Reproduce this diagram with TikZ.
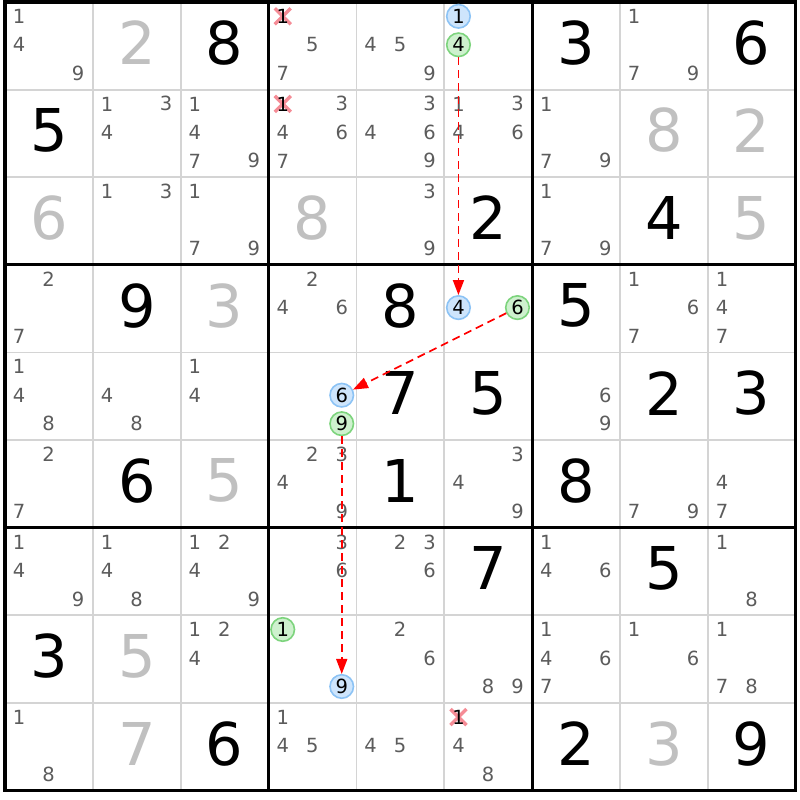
\documentclass[tikz,border=0pt]{standalone}
\usepackage{fontspec}
\setmainfont{DejaVu Sans}
\usetikzlibrary{arrows.meta}
\definecolor{candgray}{RGB}{92,92,92}
\definecolor{solvedgray}{RGB}{192,192,192}
\definecolor{thingrid}{RGB}{212,212,212}
\definecolor{bluefill}{RGB}{206,229,252}
\definecolor{blueline}{RGB}{140,195,245}
\definecolor{greenfill}{RGB}{206,241,206}
\definecolor{greenline}{RGB}{125,212,125}
\definecolor{xpink}{RGB}{245,140,150}
\definecolor{arrowred}{RGB}{255,0,0}
\newcommand{\candxy}[3]{%
  \pgfmathsetmacro\px{5+(#2-1)*87.85+14.2+mod(#3-1,3)*29.5}%
  \pgfmathsetmacro\py{2+(#1-1)*87.6+14.3+floor((#3-1)/3)*28.5}}
\begin{document}
\begin{tikzpicture}[x=1pt,y=-1pt,
  cand/.style={inner sep=0pt, text=candgray, font=\fontsize{19.5}{19.5}\selectfont},
  candk/.style={inner sep=0pt, text=black, font=\fontsize{19.5}{19.5}\selectfont},
  bigg/.style={inner sep=0pt, text=black, font=\fontsize{59}{59}\selectfont},
  bigs/.style={inner sep=0pt, text=solvedgray, font=\fontsize{59}{59}\selectfont},
  markbase/.style={circle, minimum size=23.5pt, inner sep=0pt, line width=1.6pt, text=black, font=\fontsize{19.5}{19.5}\selectfont},
  bluemark/.style={markbase, draw=blueline, fill=bluefill},
  greenmark/.style={markbase, draw=greenline, fill=greenfill},
  xmark/.style={draw=xpink, line width=3.4pt},
  thinline/.style={draw=thingrid, line width=1.8pt},
  thickline/.style={draw=black, line width=3.2pt},
  link/.style={draw=arrowred, line width=1.7pt, dash pattern=on 8pt off 5pt, -{Triangle[length=15pt,width=11pt]}},
]
\useasboundingbox[fill=white] (0,0) rectangle (800,800);
% thin grid
\foreach \i in {1,2,4,5,7,8}{
  \draw[thinline] ({5+\i*87.85},2) -- ({5+\i*87.85},790.4);
  \draw[thinline] (5,{2+\i*87.6}) -- (795.65,{2+\i*87.6});
}
% thick grid
\foreach \i in {3,6}{
  \draw[thickline] ({5+\i*87.85},2) -- ({5+\i*87.85},790.4);
  \draw[thickline] (5,{2+\i*87.6}) -- (795.65,{2+\i*87.6});
}
\draw[thickline] (5,2) rectangle (795.65,790.4);
% candidates
\foreach \r/\c/\ds in {
  1/1/{1,4,9}, 1/4/{5,7}, 1/5/{4,5,9}, 1/8/{1,7,9},
  2/2/{1,3,4}, 2/3/{1,4,7,9}, 2/4/{3,4,6,7}, 2/5/{3,4,6,9}, 2/6/{1,3,4,6}, 2/7/{1,7,9},
  3/2/{1,3}, 3/3/{1,7,9}, 3/5/{3,9}, 3/7/{1,7,9},
  4/1/{2,7}, 4/4/{2,4,6}, 4/8/{1,6,7}, 4/9/{1,4,7},
  5/1/{1,4,8}, 5/2/{4,8}, 5/3/{1,4}, 5/7/{6,9},
  6/1/{2,7}, 6/4/{2,3,4,9}, 6/6/{3,4,9}, 6/8/{7,9}, 6/9/{4,7},
  7/1/{1,4,9}, 7/2/{1,4,8}, 7/3/{1,2,4,9}, 7/4/{3,6}, 7/5/{2,3,6}, 7/7/{1,4,6}, 7/9/{1,8},
  8/3/{1,2,4}, 8/5/{2,6}, 8/6/{8,9}, 8/7/{1,4,6,7}, 8/8/{1,6}, 8/9/{1,7,8},
  9/1/{1,8}, 9/4/{1,4,5}, 9/5/{4,5}, 9/6/{4,8}}{
  \foreach \d in \ds {
    \candxy{\r}{\c}{\d}
    \node[cand] (c-\r-\c-\d) at (\px,\py) {\d};
  }
}
% big digits
\foreach \r/\c/\v/\t in {
  1/2/2/s, 1/3/8/g, 1/7/3/g, 1/9/6/g,
  2/1/5/g, 2/8/8/s, 2/9/2/s,
  3/1/6/s, 3/4/8/s, 3/6/2/g, 3/8/4/g, 3/9/5/s,
  4/2/9/g, 4/3/3/s, 4/5/8/g, 4/7/5/g,
  5/5/7/g, 5/6/5/g, 5/8/2/g, 5/9/3/g,
  6/2/6/g, 6/3/5/s, 6/5/1/g, 6/7/8/g,
  7/6/7/g, 7/8/5/g,
  8/1/3/g, 8/2/5/s,
  9/2/7/s, 9/3/6/g, 9/7/2/g, 9/8/3/s, 9/9/9/g}{
  \node[big\t] (v-\r-\c) at ({5+(\c-0.5)*87.85},{2+(\r-0.5)*87.6-3}) {\v};
}
% eliminated candidates
\foreach \r/\c [count=\k] in {1/4, 2/4, 9/6}{
  \candxy{\r}{\c}{1}
  \draw[xmark] ({\px-8},{\py-8}) -- ({\px+8},{\py+8});
  \draw[xmark] ({\px-8},{\py+8}) -- ({\px+8},{\py-8});
  \node[candk] (x\k) at (\px,\py) {1};
}
% marked candidates
\candxy{1}{6}{1} \node[bluemark] (b1) at (\px,\py) {1};
\candxy{1}{6}{4} \node[greenmark] (g1) at (\px,\py) {4};
\candxy{4}{6}{4} \node[bluemark] (b2) at (\px,\py) {4};
\candxy{4}{6}{6} \node[greenmark] (g2) at (\px,\py) {6};
\candxy{5}{4}{6} \node[bluemark] (b3) at (\px,\py) {6};
\candxy{5}{4}{9} \node[greenmark] (g3) at (\px,\py) {9};
\candxy{8}{4}{9} \node[bluemark] (b4) at (\px,\py) {9};
\candxy{8}{4}{1} \node[greenmark] (g4) at (\px,\py) {1};
% links
\draw[link] (g1) -- (b2);
\draw[link] (g2) -- (b3);
\draw[link] (g3) -- (b4);
\end{tikzpicture}
\end{document}
